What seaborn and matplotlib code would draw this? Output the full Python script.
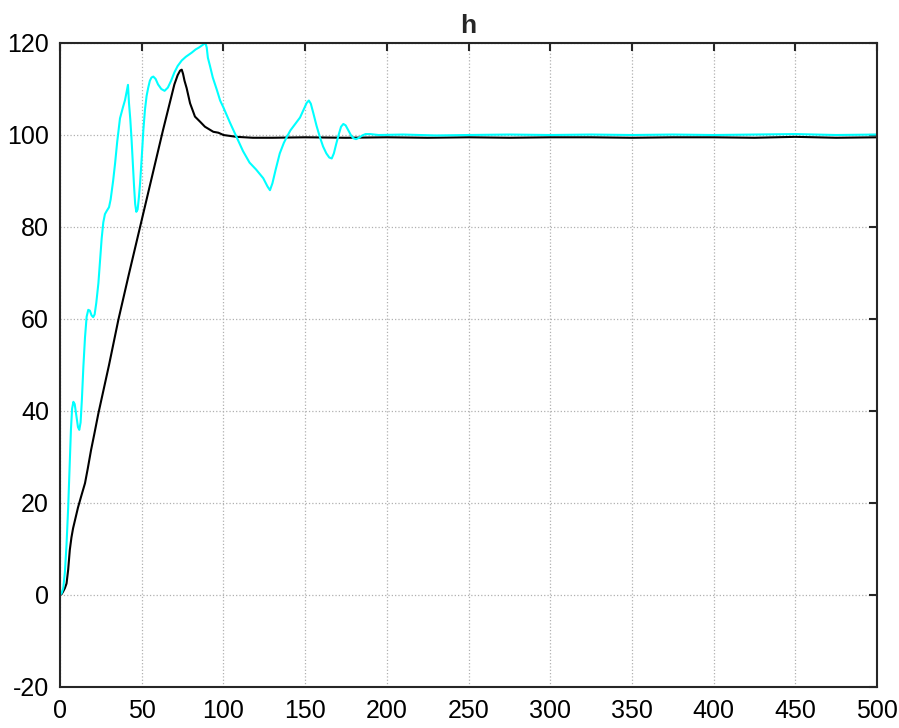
import matplotlib
matplotlib.use("Agg")
import matplotlib.pyplot as plt
import seaborn as sns
import pandas as pd

# Black series
t_black = [0, 1, 2, 3, 4, 5, 6, 7, 8, 9.2, 11, 13, 15.3, 17, 19, 21, 23.5, 30, 35.7, 42, 49,
           56, 63, 70, 72, 73.5, 74.5, 75.3, 76.2, 77.5, 79.6, 82.6, 85.7, 88.7, 93.8, 96.9,
           100, 108, 118, 130, 150, 175, 200, 225, 250, 275, 300, 325, 350, 375, 400,
           425, 450, 475, 500]
h_black = [0, 0.2, 0.8, 1.5, 2.5, 5.5, 9.8, 12.5, 14.5, 16.3, 19, 21.5, 24.3, 27.5, 31.5, 35, 39.5, 50, 59.8, 69.5, 80,
           90.5, 101, 111, 113, 114, 114.2, 113.3, 111.8, 110.2, 106.9, 104, 102.9, 101.8, 100.7, 100.5,
           100.0, 99.6, 99.4, 99.4, 99.5, 99.4, 99.5, 99.4, 99.5, 99.4, 99.5, 99.5, 99.4, 99.5, 99.5,
           99.4, 99.6, 99.4, 99.5]

# Cyan series
t_cyan = [0, 1, 2, 3, 4, 5, 6, 6.7, 7.4, 8.2, 9, 10, 11, 11.8, 12.6, 13.4, 14.3, 15.3, 16.3, 17.3,
          18.3, 19.3, 20.3, 21.2, 22.2, 23.5, 24.5, 25.5, 26.5, 27.5, 28.6, 30, 31, 32.5, 33.7, 35,
          36.7, 38.5, 39.8, 40.8, 41.6, 42.2, 43, 43.8, 44.6, 45.3, 46, 46.7, 47.5, 48.3, 49, 50,
          51, 52, 53, 54, 55, 56, 57.1, 58.5, 60, 62, 64, 66, 68, 70, 72, 74.5, 77, 80.6, 83, 85,
          87, 89, 89.8, 90.5, 91.8, 93.5, 96, 98, 100, 104, 108, 112, 116, 120, 124.4, 127, 128.5,
          130, 132, 134.5, 137, 138.7, 141, 143.5, 146.9, 149.5, 151, 152.3, 153.5, 155, 157, 159,
          161, 163, 164.8, 166.3, 167.6, 169, 170.5, 172, 173.4, 174.8, 176.5, 178, 179.5, 181.2,
          183, 185, 187, 189.7, 195, 210, 230, 250, 275, 300, 325, 350, 375, 400, 425, 450,
          475, 500]
h_cyan = [0, 0.4, 1.5, 5, 11, 19, 29, 36, 40.5, 42, 41.5, 39, 36.5, 35.9, 37.5, 42.5, 49.6, 56, 60.5, 62,
          61.8, 60.8, 60.4, 61, 63.5, 67.8, 72.5, 77.5, 81, 82.8, 83.5, 84.3, 86, 90, 93.8, 98.5,
          103.6, 106, 107.6, 109.5, 110.9, 107, 103.5, 99, 93.5, 89, 85, 83.3, 83.8, 86.5, 89.5, 95,
          101, 105.5, 108.5, 110.3, 111.8, 112.5, 112.7, 112.2, 111, 110, 109.6, 110.3, 111.8, 113.6, 115, 116.2, 117, 117.9, 118.6, 119,
          119.5, 120, 119, 116.8, 115, 112.5, 109.8, 107.5, 106, 102.7, 99.6, 96.5, 94, 92.5, 90.6, 88.8, 88,
          89.5, 92.5, 96, 98.3, 99.5, 101, 102.2, 103.8, 105.8, 107, 107.5, 106.8, 104.8, 102, 99.6,
          97.5, 96, 95.1, 94.9, 96, 98, 100, 101.8, 102.4, 102.1, 101, 100, 99.3, 99.1,
          99.4, 99.9, 100.2, 100.2, 100, 100.1, 99.9, 100, 100.1, 100, 100.1, 100, 100.1, 100, 100.1, 100.2,
          100, 100.1]

df_b = pd.DataFrame({"t": t_black, "h": h_black})
df_c = pd.DataFrame({"t": t_cyan, "h": h_cyan})

sns.set_style("white")
plt.rcParams['font.family'] = ['Liberation Sans', 'DejaVu Sans']
plt.rcParams['axes.unicode_minus'] = False

fig = plt.figure(figsize=(8.99, 7.28), dpi=100)
ax = fig.add_axes([60/899, 1-687/728, (877-60)/899, (687-43)/728])

sns.lineplot(data=df_b, x="t", y="h", ax=ax, color="black", linewidth=1.5, estimator=None, sort=False)
sns.lineplot(data=df_c, x="t", y="h", ax=ax, color="#00FFFF", linewidth=1.5, estimator=None, sort=False)

ax.set_xlim(0, 500)
ax.set_ylim(-20, 120)
ax.set_xticks(range(0, 501, 50))
ax.set_yticks(range(-20, 121, 20))
ax.set_xlabel("")
ax.set_ylabel("")
ax.set_title("h", fontsize=19, fontweight="bold", pad=7)

ax.grid(True, linestyle=":", color="#b0b0b0", linewidth=0.9)
ax.set_axisbelow(True)
for s in ax.spines.values():
    s.set_visible(True)
    s.set_color("#262626")
    s.set_linewidth(1.5)
ax.tick_params(direction="in", length=6, width=1.5, top=True, right=True,
               colors="#262626", labelcolor="black")
ax.tick_params(axis="both", labelsize=18)
ax.tick_params(axis="x", pad=9)
ax.tick_params(axis="y", pad=8)

fig.savefig("out.png", dpi=100)
